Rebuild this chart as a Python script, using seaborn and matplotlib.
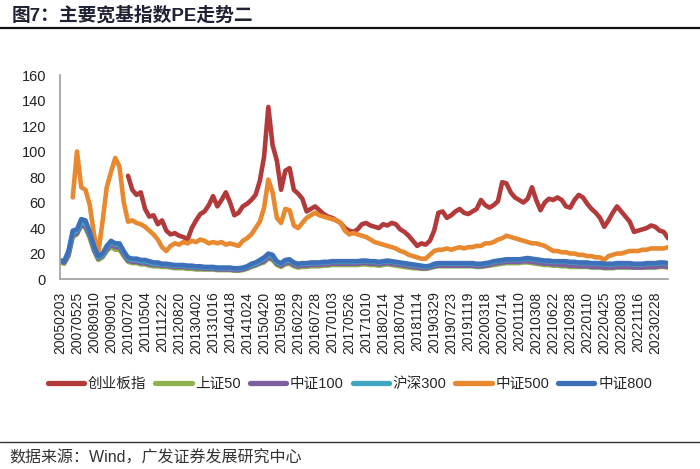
import numpy as np
import pandas as pd
import matplotlib
matplotlib.use("Agg")
import matplotlib.pyplot as plt
import seaborn as sns

# tick labels (trading-day axis, equally spaced categories)
tick_labels = [
    "20050203", "20070525", "20080910", "20090901", "20100720", "20110504",
    "20111222", "20120820", "20130402", "20131016", "20140418", "20141024",
    "20150420", "20150918", "20160229", "20160728", "20170103", "20170526",
    "20171010", "20180214", "20180704", "20181114", "20190329", "20190723",
    "20191119", "20200318", "20200714", "20201110", "20210308", "20210622",
    "20210928", "20220110", "20220425", "20220803", "20221116", "20230228",
]
samples_per_tick = 4  # values read every quarter of a label interval

nan = np.nan
chinext = [nan] * 16 + [
    81, 70, 66, 68, 55, 49, 50, 43, 46, 38, 35, 36, 34, 33, 31, 40,
    46, 51, 53, 58, 65, 57, 62, 68, 60, 50, 52, 57, 59, 62, 66, 77,
    96, 135, 105, 93, 70, 85, 87, 70, 67, 63, 53, 55, 57, 54, 51, 49,
    48, 46, 44, 40, 38, 37, 39, 43, 44, 42, 41, 40, 43, 42, 44, 43,
    39, 37, 34, 30, 26, 28, 27, 30, 38, 52, 53, 48, 50, 53, 55, 52,
    51, 53, 55, 62, 58, 56, 58, 61, 76, 75, 68, 64, 62, 60, 63, 72,
    62, 54, 60, 63, 62, 64, 62, 57, 56, 62, 66, 64, 59, 55, 52, 48,
    41, 46, 52, 57, 53, 49, 45, 37, 38, 39, 40, 42, 41, 38, 37, 32,
]
sse50 = [
    13, 12, 18, 33, 35, 42, 40, 32, 22, 15, 17, 22, 25, 23, 23, 18,
    13.5, 12.5, 12.5, 11.5, 11.5, 10.5, 10, 10, 9.5, 9.5, 9, 8.5, 8.5, 8.5, 8, 8,
    7.5, 7.5, 7.5, 7.5, 7.5, 7, 7, 7, 7, 6.5, 6.5, 7, 8, 9.5, 10.5, 12,
    13, 16, 15, 11, 9.5, 11.5, 12, 10, 9, 9.5, 9.5, 10, 10, 10, 10.5, 10.5,
    11, 11, 11, 11, 11, 11, 11, 11.5, 11.5, 11, 11, 10.5, 11, 11.5, 11, 10.5,
    10, 9.5, 9, 8.5, 8.5, 8, 8, 8.5, 9.5, 10, 10, 10, 10, 10, 10, 10,
    10, 10, 9.5, 9.5, 10, 10.5, 11, 11.5, 12, 12.5, 12.5, 12.5, 12.5, 13, 13, 12.5,
    12, 11.5, 11, 11, 10.5, 10.5, 10, 10, 9.5, 9.5, 9.5, 9.5, 9.5, 9, 9, 9,
    8.5, 8.5, 8.5, 9, 9, 9, 9, 9, 9, 9, 9, 9, 9, 9.5, 9.5, 9,
]
csi100 = [
    14, 13, 19, 34, 36, 43, 41, 34, 23, 16, 18, 23, 27, 25, 25, 19,
    14.5, 13.5, 13.5, 12.5, 12.5, 11.5, 11, 11, 10.5, 10.5, 10, 9.5, 9.5, 9.5, 9, 9,
    8.5, 8.5, 8, 8, 8, 7.5, 7.5, 7.5, 7.5, 7, 7, 7.5, 8.5, 10, 11, 12.5,
    14, 17, 16, 12, 10.5, 12.5, 13, 11, 10, 10.5, 10.5, 11, 11, 11, 11.5, 11.5,
    12, 12, 12, 12, 12, 12, 12, 12.5, 12.5, 12, 12, 11.5, 12, 12.5, 12, 11.5,
    11, 10.5, 10, 9.5, 9, 8.5, 8.5, 9, 10, 10.5, 10.5, 10.5, 10.5, 10.5, 10.5, 10.5,
    10.5, 10.5, 10, 10, 10.5, 11, 12, 12.5, 13, 13.5, 13.5, 13.5, 13.5, 14, 14, 13.5,
    13, 12.5, 12, 12, 11.5, 11.5, 11, 11, 10.5, 10.5, 10, 10, 10, 9.5, 9.5, 9.5,
    9, 9, 9, 9.5, 9.5, 9.5, 9.5, 9, 9, 9, 9.5, 9.5, 9.5, 10, 10, 9.5,
]
hs300 = [
    15, 14, 21, 36, 38, 45, 43, 36, 25, 17, 19, 25, 29, 27, 27, 21,
    16, 15, 15, 14, 14, 13, 12, 12, 11.5, 11.5, 11, 10.5, 10.5, 10.5, 10, 10,
    9.5, 9.5, 9, 9, 9, 8.5, 8.5, 8.5, 8.5, 8, 8, 8.5, 9.5, 11, 12, 14,
    16, 19, 18, 13, 12, 14, 14.5, 12.5, 11.5, 12, 12, 12.5, 12.5, 12.5, 13, 13,
    13.5, 13.5, 13.5, 13.5, 13.5, 13.5, 13.5, 14, 14, 13.5, 13.5, 13, 13.5, 14, 13.5, 13,
    12.5, 12, 11.5, 11, 10.5, 10, 9.5, 10, 11.5, 12, 12, 12, 12, 12, 12, 12,
    12, 12, 11.5, 11.5, 12, 12.5, 13.5, 14, 14.5, 15, 15, 15, 15, 15.5, 16, 15.5,
    15, 14.5, 14, 14, 13.5, 13.5, 13.5, 13.5, 13, 13, 12.5, 12.5, 12.5, 12, 12, 12,
    11.5, 11.5, 11.5, 12, 12, 12, 12, 11.5, 11.5, 11.5, 12, 12, 12, 12.5, 12.5, 12,
]
csi500 = [
    nan, nan, nan, 64, 100, 72, 70, 58, 35, 20, 45, 72, 84, 95, 88, 60,
    45, 46, 44, 43, 41, 38, 35, 31, 25, 22, 26, 28, 27, 29, 28, 30,
    29, 31, 30, 28, 29, 28, 29, 27, 28, 27, 26, 30, 32, 35, 40, 45,
    56, 78, 68, 48, 44, 55, 54, 42, 40, 44, 48, 50, 52, 50, 49, 48,
    47, 46, 44, 38, 35, 36, 35, 34, 33, 31, 29, 28, 27, 26, 25, 24,
    22, 21, 19, 18, 17, 16, 16, 19, 22, 23, 23, 24, 23, 24, 25, 24,
    25, 25, 26, 26, 28, 28, 29, 31, 32, 34, 33, 32, 31, 30, 29, 28,
    28, 27, 26, 24, 22, 22, 21, 21, 20, 20, 19, 19, 18, 18, 17, 17,
    15, 18, 19, 20, 20, 21, 22, 22, 22, 23, 23, 24, 24, 24, 24, 25,
]
csi800 = [
    14, 14, 22, 38, 39, 47, 46, 37, 26, 18, 20, 26, 30, 28, 28, 22,
    17, 16, 16, 15, 15, 14, 13, 13, 12, 12, 11.5, 11, 11, 11, 10.5, 10.5,
    10, 10, 9.5, 9.5, 9.5, 9, 9, 9, 9, 8.5, 8.5, 9, 10, 12, 13, 15,
    17, 20, 19, 14, 12.5, 15, 15.5, 13, 12, 12.5, 12.5, 13, 13, 13, 13.5, 13.5,
    14, 14, 14, 14, 14, 14, 14, 14.5, 14.5, 14, 14, 13.5, 14, 14.5, 14, 13.5,
    13, 12.5, 12, 11.5, 11, 10.5, 10, 10.5, 12, 12.5, 12.5, 12.5, 12.5, 12.5, 12.5, 12.5,
    12.5, 12.5, 12, 12, 12.5, 13, 14, 14.5, 15, 15.5, 15.5, 15.5, 15.5, 16, 16.5, 16,
    15.5, 15, 14.5, 14.5, 14, 14, 14, 14, 13.5, 13.5, 13, 13, 13, 12.5, 12.5, 12.5,
    12, 12, 12, 12.5, 12.5, 12.5, 12.5, 12, 12, 12, 12.5, 12.5, 12.5, 13, 13, 12.5,
]

series_names = ["创业板指", "上证50", "中证100", "沪深300", "中证500", "中证800"]
colors = ["#B23A3B", "#8DB24E", "#7D5FA0", "#3FA6C0", "#E8892F", "#3D70B8"]

sns.set_theme(style="white")
plt.rcParams["font.family"] = ["Liberation Sans", "Noto Sans CJK SC", "DejaVu Sans"]

wide = pd.DataFrame(dict(zip(series_names,
                             [chinext, sse50, csi100, hs300, csi500, csi800])))
wide["idx"] = np.arange(len(wide))
df = wide.melt(id_vars="idx", var_name="指数", value_name="PE").dropna()

fig = plt.figure(figsize=(7, 4.69), dpi=100)
ax = fig.add_axes([0.0857, 0.405, 0.8686, 0.435])
sns.lineplot(data=df, x="idx", y="PE", hue="指数", hue_order=series_names,
             palette=dict(zip(series_names, colors)), linewidth=3.3,
             sort=False, ax=ax, legend=True)

n = len(wide)
ax.set_xlim(0, n - 1)
ax.set_ylim(0, 160)
ax.set_yticks(range(0, 161, 20))
ax.set_xticks(np.arange(len(tick_labels)) * samples_per_tick)
ax.set_xticklabels(tick_labels, rotation=90, fontsize=10, color="#222222")
ax.tick_params(axis="y", labelsize=10.5, colors="#222222", length=0, pad=10)
ax.tick_params(axis="x", length=0, pad=9)
ax.set_xlabel("")
ax.set_ylabel("")
for side in ["top", "right"]:
    ax.spines[side].set_visible(False)
for side in ["left", "bottom"]:
    ax.spines[side].set_color("#A6A6A6")
    ax.spines[side].set_linewidth(1.3)

handles, labels = ax.get_legend_handles_labels()
ax.legend_.remove()
leg = fig.legend(handles, labels, loc="center", bbox_to_anchor=(0.5, 0.181),
                 ncol=6, frameon=False, fontsize=10.5, handlelength=2.5,
                 handletextpad=0.25, columnspacing=0.6)
for h in leg.legend_handles:
    h.set_linewidth(3.8)

# title and source
fig.text(0.016, 0.968, "图7：主要宽基指数PE走势二", fontsize=13.5, fontweight="bold",
         color="#1F2233", va="center", ha="left")
fig.add_artist(plt.Line2D([0, 1], [0.94, 0.94], color="#111111", lw=1.6))
fig.add_artist(plt.Line2D([0, 1], [0.058, 0.058], color="#333333", lw=1.0))
fig.text(0.014, 0.024, "数据来源：Wind，广发证券发展研究中心", fontsize=11.5,
         color="#333333", va="center", ha="left")

fig.savefig("out.png", dpi=100)
